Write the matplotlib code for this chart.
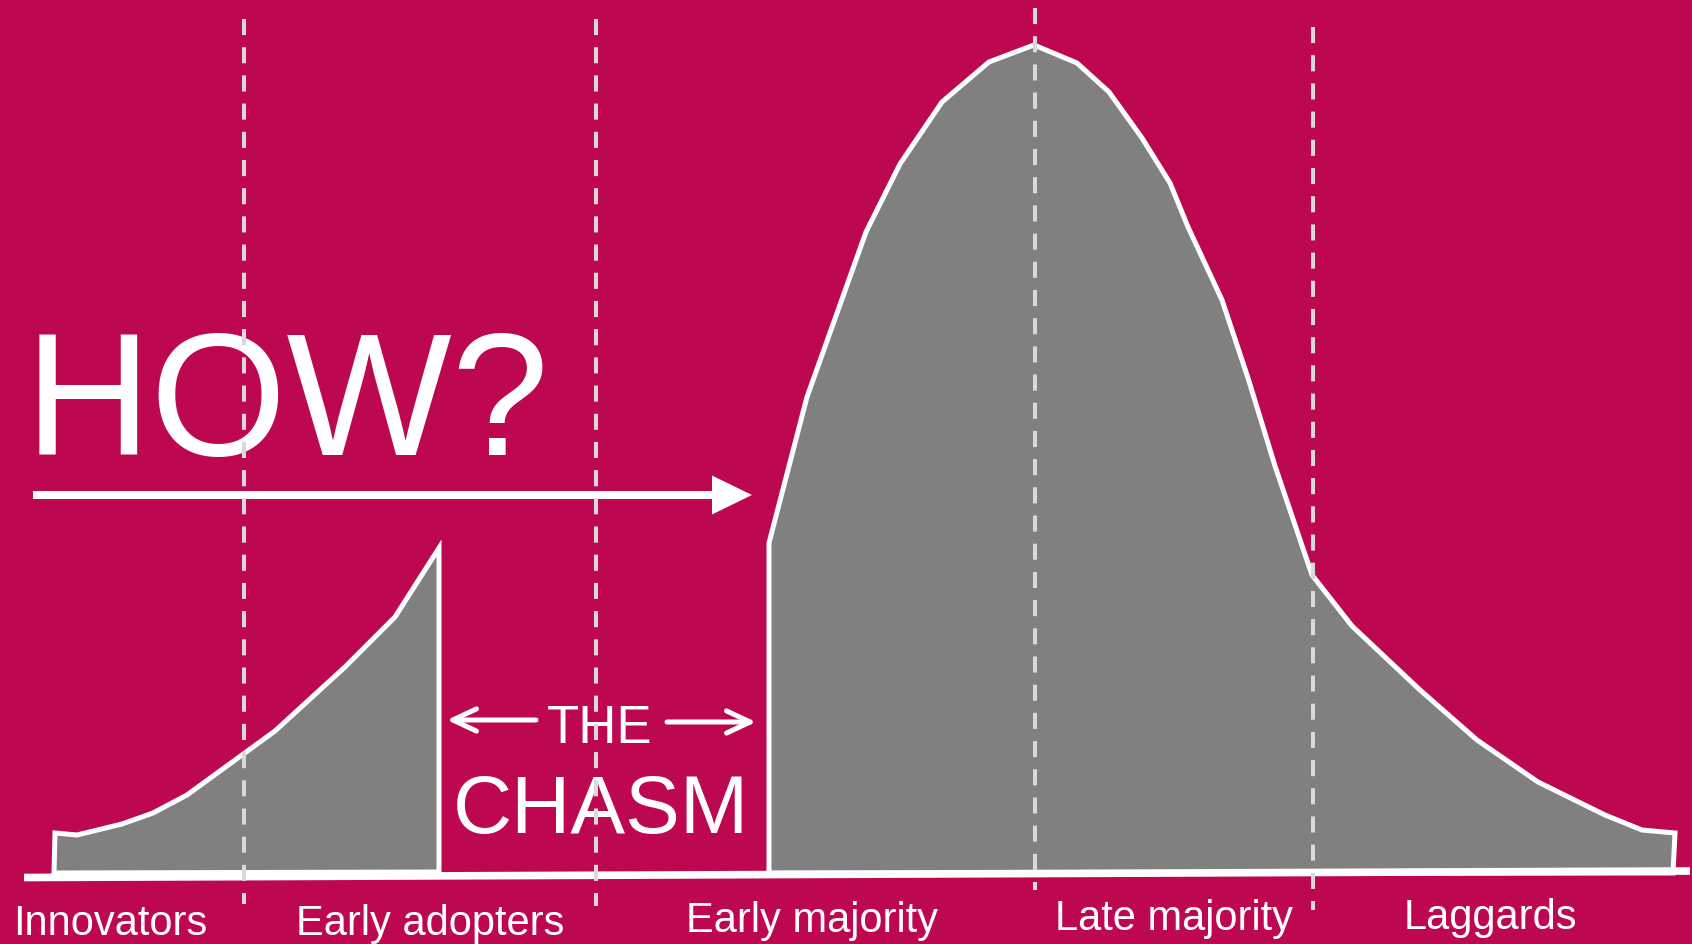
import numpy as np
import matplotlib.pyplot as plt
from matplotlib.patches import Polygon

# Canvas units follow the picture: x to the right, y downwards (1692 x 944)
W, H = 1692, 944
BG = '#BE0751'
FILL = '#808080'
DASH = '#D9D9D9'

# early market curve (innovators + early adopters), ends at the chasm
early_x = [54, 55, 77, 122, 153, 187, 275, 345, 395, 439, 439]
early_y = [873, 833, 835, 824, 813, 795, 731, 667, 617, 548, 872]

# mainstream market curve (early majority .. laggards)
main_x = [769, 769, 807, 866, 900, 942, 989, 1034, 1077, 1109, 1142, 1170,
          1188, 1222, 1248, 1275, 1312, 1352, 1420, 1477, 1538, 1605, 1642,
          1675, 1673]
main_y = [873, 543, 397, 232, 164, 102, 62, 45, 63, 92, 138, 183,
          227, 300, 378, 466, 575, 626, 690, 740, 782, 815, 830,
          833, 873]

# segment dividers
div_x = [244, 596, 1035, 1313]
div_top = [19, 19, 8, 27]
div_bottom = [904, 906, 890, 910]

# axis baseline
base_x = [24, 1690]
base_y = [877.5, 871]

# segment labels
labels = ['Innovators', 'Early adopters', 'Early majority', 'Late majority', 'Laggards']
label_x = [110, 430, 812, 1174, 1490]
label_y = [935, 935, 932, 930, 929]

FONT = ['Liberation Sans', 'DejaVu Sans']

fig = plt.figure(figsize=(W / 100, H / 100), dpi=100)
fig.patch.set_facecolor(BG)
ax = fig.add_axes([0, 0, 1, 1])
ax.set_facecolor(BG)
ax.set_xlim(0, W)
ax.set_ylim(H, 0)
ax.axis('off')

for xs, ys in [(early_x, early_y), (main_x, main_y)]:
    ax.add_patch(Polygon(np.column_stack([xs, ys]), closed=True,
                         facecolor=FILL, edgecolor='white', lw=3.6,
                         joinstyle='miter', zorder=2))

ax.plot(base_x, base_y, color='white', lw=5.5, solid_capstyle='butt', zorder=3)

# HOW? and the big arrow across the chasm
ax.text(25, 455, 'HOW?', color='white', fontsize=126, family=FONT,
        ha='left', va='baseline', zorder=4)
ax.arrow(33, 495, 719, 0, width=8, head_width=39, head_length=40,
         length_includes_head=True, color='white', lw=0, zorder=4)

# THE CHASM
ax.text(600, 743, 'THE', color='white', fontsize=38, family=FONT,
        ha='center', va='baseline', zorder=4)
ax.text(601, 833, 'CHASM', color='white', fontsize=59, family=FONT,
        ha='center', va='baseline', zorder=4)
arrow_kw = dict(arrowstyle='->,head_length=17,head_width=8', color='white',
                lw=3.6, mutation_scale=1, shrinkA=0, shrinkB=0)
ax.annotate('', xy=(447, 720), xytext=(536, 720), arrowprops=arrow_kw, zorder=4)
ax.annotate('', xy=(756, 722), xytext=(667, 722), arrowprops=arrow_kw, zorder=4)

for lab, lx, ly in zip(labels, label_x, label_y):
    ax.text(lx, ly, lab, color='white', fontsize=30, family=FONT,
            ha='center', va='baseline', zorder=4)

for x, y0, y1 in zip(div_x, div_top, div_bottom):
    ax.plot([x, x], [y0, y1], color=DASH, lw=2.9, dashes=(4, 3), zorder=5)

fig.savefig('out.png', dpi=100, facecolor=BG)
